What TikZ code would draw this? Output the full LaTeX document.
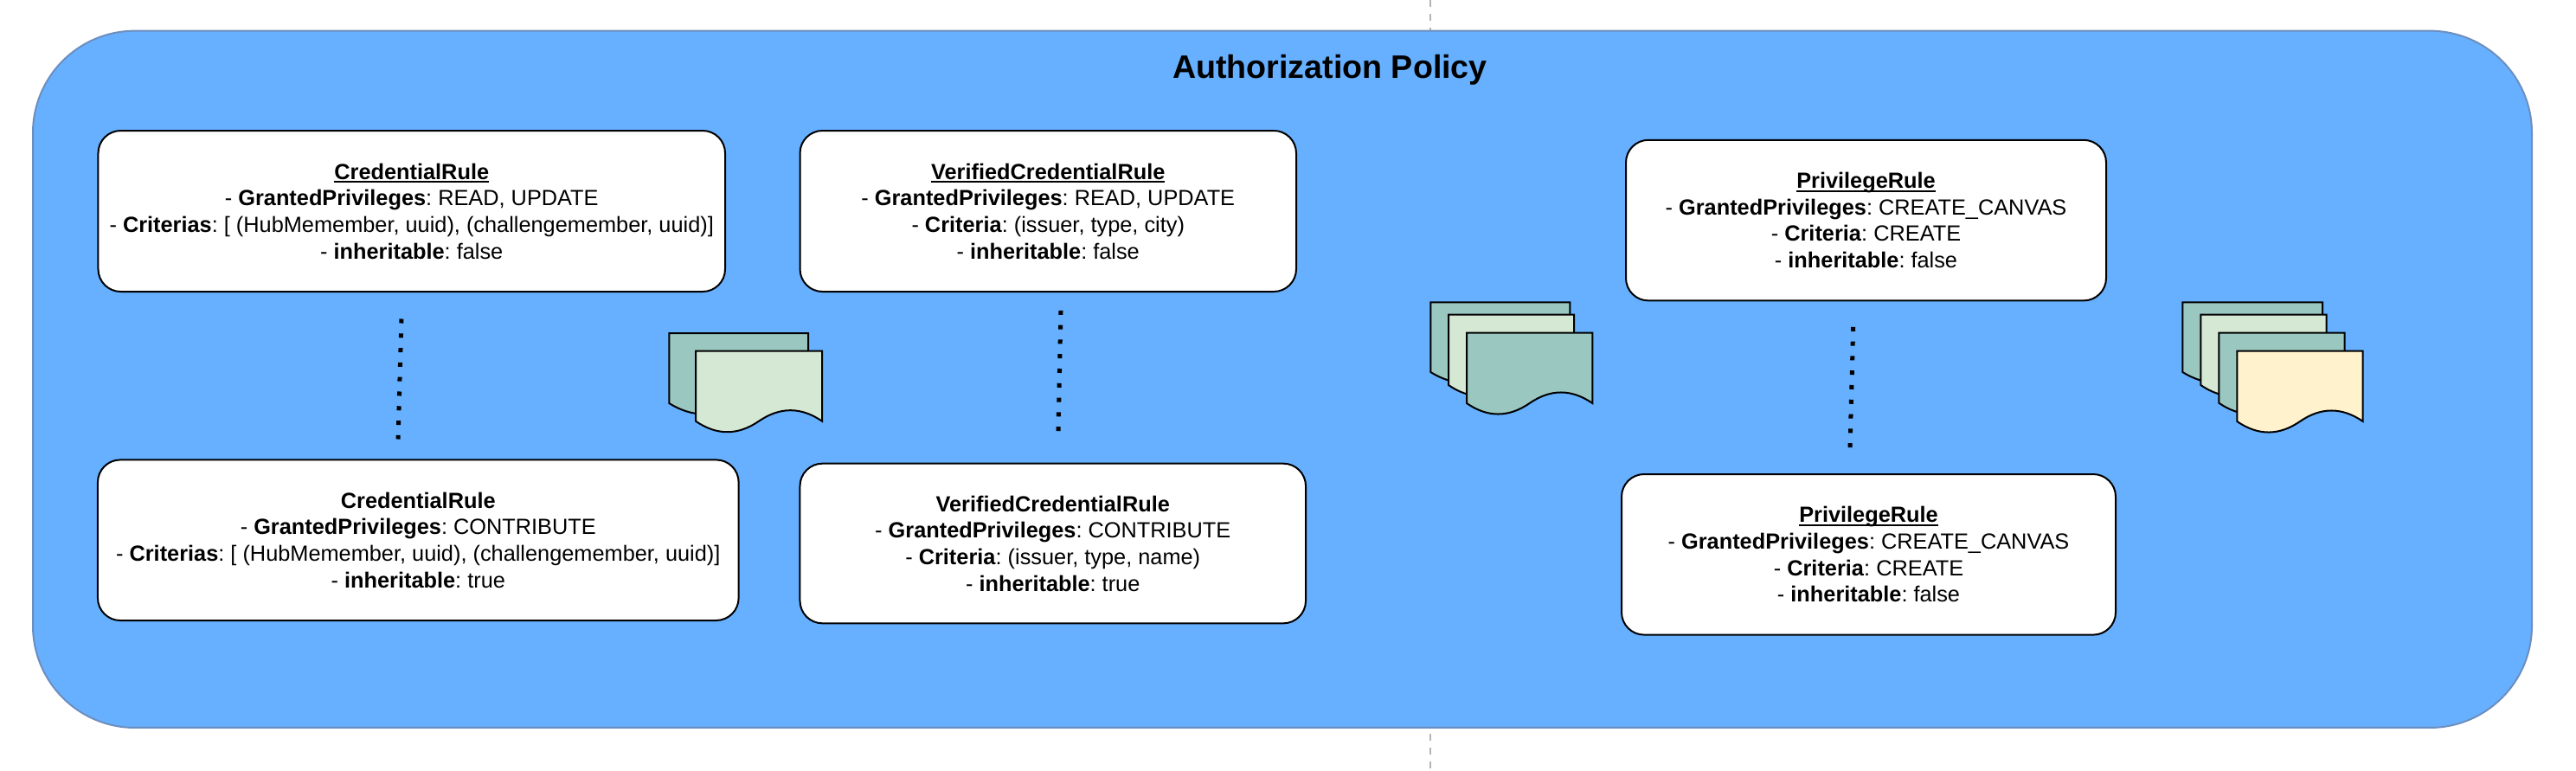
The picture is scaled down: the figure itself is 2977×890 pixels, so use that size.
\documentclass[tikz,border=0pt]{standalone}
\usepackage{fontspec}
\setmainfont{Liberation Sans}
\definecolor{panelblue}{HTML}{66B0FF}
\definecolor{panelline}{HTML}{6C8EBF}
\definecolor{sheetTeal}{HTML}{9AC7BF}
\definecolor{paleGreen}{HTML}{D5E8D4}
\definecolor{paleYellow}{HTML}{FFF2CC}
\definecolor{guide}{HTML}{B3B3B3}
\newcommand{\ruletext}{\fontsize{19pt}{23pt}\selectfont\frenchspacing}
\newsavebox{\headbox}
\newcommand{\rulehead}[1]{\sbox{\headbox}{\textbf{#1}}\rlap{\vrule width\wd\headbox height -1.6pt depth 2.9pt}\usebox{\headbox}}
\tikzset{
  panel/.style={draw=panelline,line width=1.5pt,fill=panelblue,rounded corners=88.5pt,inner sep=0pt,minimum width=2166pt,minimum height=604pt},
  rulebox/.style={draw=black,line width=1.5pt,fill=white,rounded corners=19.5pt,align=center,inner sep=0pt,font=\ruletext},
  pagesheet/.style={draw=black,line width=1.5pt,line join=miter},
  dots/.style={line width=3.75pt,dash pattern=on 3.75pt off 8.85pt},
  guideline/.style={draw=guide,line width=1.5pt,dash pattern=on 6pt off 6pt},
  heading/.style={font=\fontsize{28.2pt}{32pt}\selectfont\bfseries,inner sep=0pt}
}
% x left, x right, y top, y base of the wave, fill
\newcommand{\pagedoc}[5]{%
  \draw[pagesheet,fill=#5] (#1,#3) -- (#2,#3) -- (#2,#4)
    .. controls ({#2-(#2-#1)/6},{#4-16.7}) and ({(#1+#2)/2+(#2-#1)/6},{#4-16.7}) .. ({(#1+#2)/2},#4)
    .. controls ({(#1+#2)/2-(#2-#1)/6},{#4+16.7}) and ({#1+(#2-#1)/6},{#4+16.7}) .. (#1,#4) -- cycle;}
\begin{document}
\begin{tikzpicture}[x=0.75pt,y=-0.75pt]
\useasboundingbox (0,0) rectangle (2977,890);
\coordinate (guideTop) at (1653,0);
\coordinate (guideBottom) at (1653,890);
\draw[guideline] (guideTop) -- (guideBottom);
\node[panel] (policy) at (1482,438.3) {};
\node[heading] (title) at (1537,81) {Authorization Policy};

\node[rulebox,minimum width=543.4pt,minimum height=139.5pt] (cr1) at (475.75,244) {\rulehead{CredentialRule}\\- \textbf{GrantedPrivileges}: READ, UPDATE\\- \textbf{Criterias}: [ (HubMemember, uuid), (challengemember, uuid)]\\- \textbf{inheritable}: false};
\node[rulebox,minimum width=555.5pt,minimum height=139.2pt] (cr2) at (483.3,624.2) {\textbf{CredentialRule}\\- \textbf{GrantedPrivileges}: CONTRIBUTE\\- \textbf{Criterias}: [ (HubMemember, uuid), (challengemember, uuid)]\\- \textbf{inheritable}: true};
\node[rulebox,minimum width=430.1pt,minimum height=139.5pt] (vcr1) at (1211.25,244) {\rulehead{VerifiedCredentialRule}\\- \textbf{GrantedPrivileges}: READ, UPDATE\\- \textbf{Criteria}: (issuer, type, city)\\- \textbf{inheritable}: false};
\node[rulebox,minimum width=438.4pt,minimum height=138.5pt] (vcr2) at (1216.75,628) {\textbf{VerifiedCredentialRule}\\- \textbf{GrantedPrivileges}: CONTRIBUTE\\- \textbf{Criteria}: (issuer, type, name)\\- \textbf{inheritable}: true};
\node[rulebox,minimum width=416.25pt,minimum height=139.2pt] (pr1) at (2156.5,254.6) {\rulehead{PrivilegeRule}\\- \textbf{GrantedPrivileges}: CREATE\_CANVAS\\- \textbf{Criteria}: CREATE\\- \textbf{inheritable}: false};
\node[rulebox,minimum width=428.25pt,minimum height=139.2pt] (pr2) at (2159.5,640.8) {\rulehead{PrivilegeRule}\\- \textbf{GrantedPrivileges}: CREATE\_CANVAS\\- \textbf{Criteria}: CREATE\\- \textbf{inheritable}: false};

\coordinate (crA) at (464,368.5);
\coordinate (crB) at (460,507.5);
\draw[dots] (crA) -- (crB);
\coordinate (vcrA) at (1226,358.8);
\coordinate (vcrB) at (1223,498.4);
\draw[dots] (vcrA) -- (vcrB);
\coordinate (prA) at (2141.7,377.8);
\coordinate (prB) at (2138,517.4);
\draw[dots] (prA) -- (prB);

\pagedoc{773.3}{934}{385}{466}{sheetTeal}
\pagedoc{804}{950}{405.7}{486.7}{paleGreen}

\pagedoc{1653.3}{1814.3}{349.3}{430}{sheetTeal}
\pagedoc{1674}{1819}{363.7}{445}{paleGreen}
\pagedoc{1695}{1840.3}{384.7}{466}{sheetTeal}

\pagedoc{2522.3}{2684}{349.3}{430}{sheetTeal}
\pagedoc{2543.3}{2688.7}{363.7}{445}{paleGreen}
\pagedoc{2564.3}{2709.7}{384.7}{465.7}{sheetTeal}
\pagedoc{2585.3}{2730.7}{405.7}{487}{paleYellow}
\end{tikzpicture}
\end{document}
